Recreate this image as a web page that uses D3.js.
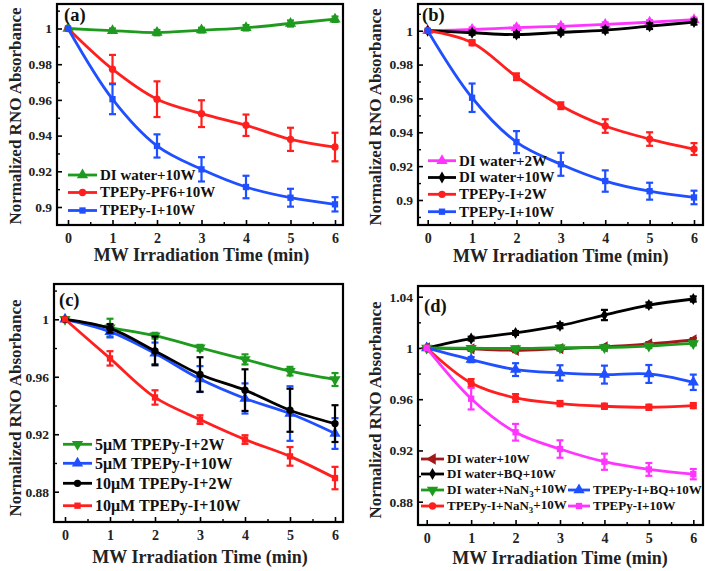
<!DOCTYPE html>
<html><head><meta charset="utf-8">
<script src="https://cdn.jsdelivr.net/npm/d3@7/dist/d3.min.js"></script>
<style>
body{margin:0;background:#fff;}
svg{display:block;font-family:"Liberation Serif","Times New Roman",serif;font-weight:bold;}
</style></head>
<body><svg id="c" width="705" height="571"></svg>
<script>
// ---------- data ----------
const times = [0, 1, 2, 3, 4, 5, 6];
const xTickLabels = ["0", "1", "2", "3", "4", "5", "6"];

// panel (a)
const aDI10W      = [1, 0.9988, 0.9977, 0.9991, 1.0004, 1.0028, 1.0052];
const aDI10WErr   = [0, 0.0012, 0.0015, 0.0013, 0.0015, 0.0017, 0.0015];
const aPF6_10W    = [1, 0.9772, 0.9604, 0.9523, 0.9458, 0.9379, 0.9336];
const aPF6_10WErr = [0, 0.0080, 0.0100, 0.0075, 0.0060, 0.0065, 0.0080];
const aI10W       = [1, 0.9604, 0.9342, 0.9211, 0.9112, 0.9052, 0.9015];
const aI10WErr    = [0, 0.0084, 0.0065, 0.0068, 0.0063, 0.0050, 0.0040];
const abYTicks    = [0.9, 0.92, 0.94, 0.96, 0.98, 1];
const abYLabels   = ["0.9", "0.92", "0.94", "0.96", "0.98", "1"];
const abYMinor    = [0.89, 0.91, 0.93, 0.95, 0.97, 0.99, 1.01];

// panel (b)
const bDI2W       = [1, 1.0007, 1.0018, 1.0026, 1.0037, 1.0050, 1.0065];
const bDI2WErr    = [0, 0.0012, 0.0012, 0.0012, 0.0012, 0.0012, 0.0012];
const bDI10W      = [1, 0.9988, 0.9977, 0.9990, 1.0004, 1.0027, 1.0051];
const bDI10WErr   = [0, 0.0012, 0.0015, 0.0013, 0.0015, 0.0017, 0.0015];
const bI2W        = [1, 0.9929, 0.9728, 0.9557, 0.9437, 0.9360, 0.9301];
const bI2WErr     = [0, 0.0015, 0.0020, 0.0020, 0.0040, 0.0040, 0.0035];
const bI10W       = [1, 0.9604, 0.9342, 0.9211, 0.9112, 0.9052, 0.9015];
const bI10WErr    = [0, 0.0084, 0.0065, 0.0068, 0.0063, 0.0050, 0.0040];

// panel (c)
const c5uM2W      = [1, 0.9942, 0.9886, 0.9802, 0.9721, 0.9639, 0.9581];
const c5uM2WErr   = [0, 0.0062, 0.0020, 0.0020, 0.0035, 0.0030, 0.0045];
const c5uM10W     = [1, 0.9914, 0.9763, 0.9584, 0.9449, 0.9344, 0.9205];
const c5uM10WErr  = [0, 0.0040, 0.0075, 0.0090, 0.0105, 0.0190, 0.0107];
const c10uM2W     = [1, 0.9937, 0.9780, 0.9616, 0.9507, 0.9367, 0.9274];
const c10uM2WErr  = [0, 0.0030, 0.0100, 0.0120, 0.0145, 0.0150, 0.0128];
const c10uM10W    = [1, 0.9728, 0.9456, 0.9302, 0.9163, 0.9046, 0.8895];
const c10uM10WErr = [0, 0.0050, 0.0050, 0.0030, 0.0030, 0.0065, 0.0078];
const cdYTicks    = [0.88, 0.92, 0.96, 1, 1.04];
const cdYLabels   = ["0.88", "0.92", "0.96", "1", "1.04"];
const cdYMinor    = [0.86, 0.90, 0.94, 0.98, 1.02];

// panel (d)
const dDI10W      = [1, 0.9992, 0.9982, 0.9995, 1.0008, 1.0031, 1.0062];
const dDI10WErr   = [0, 0.0015, 0.0015, 0.0015, 0.0015, 0.0015, 0.0015];
const dDIBQ10W    = [1, 1.0073, 1.0117, 1.0174, 1.0257, 1.0335, 1.0382];
const dDIBQ10WErr = [0, 0.0015, 0.0015, 0.0020, 0.0040, 0.0020, 0.0020];
const dDINaN3     = [1, 0.9998, 0.9996, 1.0002, 1.0003, 1.0015, 1.0035];
const dDINaN3Err  = [0, 0.0015, 0.0015, 0.0015, 0.0015, 0.0015, 0.0015];
const dIBQ10W     = [1, 0.9909, 0.9831, 0.9805, 0.9792, 0.9797, 0.9732];
const dIBQ10WErr  = [0, 0.0020, 0.0050, 0.0060, 0.0070, 0.0070, 0.0060];
const dINaN3      = [1, 0.9727, 0.9610, 0.9566, 0.9545, 0.9537, 0.9550];
const dINaN3Err   = [0, 0.0030, 0.0030, 0.0020, 0.0020, 0.0020, 0.0020];
const dI10W       = [1, 0.9604, 0.9342, 0.9211, 0.9112, 0.9052, 0.9015];
const dI10WErr    = [0, 0.0084, 0.0065, 0.0068, 0.0063, 0.0050, 0.0040];

// ---------- styles ----------
const GREEN = "#1e9b1e", RED = "#ff1f1f", BLUE = "#1f4fff", MAG = "#ff35ff", BLACK = "#000000", WINE = "#a3191b";

const svg = d3.select("#c");
const FONT = '"Liberation Serif","Times New Roman",serif';

function sym(type, size) {
  const t = {up: d3.symbolTriangle, down: d3.symbolTriangle, left: d3.symbolTriangle,
             circle: d3.symbolCircle, square: d3.symbolSquare, diamond: d3.symbolDiamond}[type];
  return d3.symbol().type(t).size(size)();
}
function symRot(type) { return type === "down" ? 180 : type === "left" ? -90 : 0; }
function symSize(type) { return {up: 55, down: 55, left: 55, circle: 42, square: 40, diamond: 42}[type]; }

function panel(cfg) {
  const g = svg.append("g");
  const x = d3.scaleLinear().domain([0, 6]).range(cfg.xr);
  const y = d3.scaleLinear().domain(cfg.yd).range(cfg.yr);
  const F = cfg.frame; // [left, top, right, bottom]
  const inside = v => y(v) > F[1] + 2 && y(v) < F[3] - 2;

  // axes
  const idx = cfg.yTicks.map((v, i) => i).filter(i => inside(cfg.yTicks[i]));
  const yAx = d3.axisLeft(y).tickValues(idx.map(i => cfg.yTicks[i]))
      .tickFormat((d, k) => cfg.yLabels[idx[k]]).tickSizeInner(-5).tickSizeOuter(0).tickPadding(5);
  const ga = g.append("g").attr("transform", `translate(${F[0]},0)`).call(yAx);
  ga.select(".domain").remove();
  ga.selectAll("line").attr("stroke", "#000").attr("stroke-width", 1.6);
  ga.selectAll("text").attr("font-size", 13.5).attr("font-family", FONT).attr("font-weight", "bold").attr("fill", "#222");
  const ym = d3.axisLeft(y).tickValues(cfg.yMinor.filter(inside))
      .tickFormat("").tickSizeInner(-3).tickSizeOuter(0);
  const gm = g.append("g").attr("transform", `translate(${F[0]},0)`).call(ym);
  gm.select(".domain").remove();
  gm.selectAll("line").attr("stroke", "#000").attr("stroke-width", 1.4);

  const xAx = d3.axisBottom(x).tickValues(times).tickFormat((d, i) => xTickLabels[i])
      .tickSizeInner(-5).tickSizeOuter(0).tickPadding(8);
  const gx = g.append("g").attr("transform", `translate(0,${F[3]})`).call(xAx);
  gx.select(".domain").remove();
  gx.selectAll("line").attr("stroke", "#000").attr("stroke-width", 1.6);
  gx.selectAll("text").attr("font-size", 14).attr("font-family", FONT).attr("font-weight", "bold").attr("fill", "#222");
  const xm = d3.axisBottom(x).tickValues([0.5, 1.5, 2.5, 3.5, 4.5, 5.5]).tickFormat("").tickSizeInner(-3).tickSizeOuter(0);
  const gxm = g.append("g").attr("transform", `translate(0,${F[3]})`).call(xm);
  gxm.select(".domain").remove();
  gxm.selectAll("line").attr("stroke", "#000").attr("stroke-width", 1.4);

  // series
  const line = d3.line().x((d, i) => x(times[i])).y(d => y(d)).curve(d3.curveCatmullRom.alpha(0.5));
  cfg.series.forEach(s => {
    const sg = g.append("g");
    sg.append("path").attr("d", line(s.v)).attr("fill", "none").attr("stroke", s.c).attr("stroke-width", 2.8);
    s.v.forEach((v, i) => {
      const e = s.e[i];
      if (e > 0) {
        const xi = x(times[i]);
        sg.append("line").attr("x1", xi).attr("x2", xi).attr("y1", y(v - e)).attr("y2", y(v + e))
          .attr("stroke", s.c).attr("stroke-width", 2.2);
        [v - e, v + e].forEach(w => sg.append("line").attr("x1", xi - 3.5).attr("x2", xi + 3.5)
          .attr("y1", y(w)).attr("y2", y(w)).attr("stroke", s.c).attr("stroke-width", 2.2));
      }
    });
    s.v.forEach((v, i) => {
      sg.append("path").attr("d", sym(s.m, symSize(s.m)))
        .attr("transform", `translate(${x(times[i])},${y(v)}) rotate(${symRot(s.m)})`).attr("fill", s.c);
    });
  });

  // frame
  g.append("rect").attr("x", F[0]).attr("y", F[1]).attr("width", F[2] - F[0]).attr("height", F[3] - F[1])
    .attr("fill", "none").attr("stroke", "#000").attr("stroke-width", 2.2);

  // panel label
  g.append("text").attr("x", cfg.tag[0]).attr("y", cfg.tag[1]).attr("font-size", 18.5).attr("fill", "#111").text(cfg.tag[2]);

  // axis titles
  g.append("text").attr("x", (cfg.xr[0] + cfg.xr[1]) / 2).attr("y", cfg.xt).attr("text-anchor", "middle")
    .attr("font-size", 18).attr("fill", "#222").text("MW Irradiation Time (min)");
  g.append("text").attr("transform", `translate(${cfg.yt[0]},${cfg.yt[1]}) rotate(-90)`).attr("text-anchor", "middle")
    .attr("font-size", 17).attr("fill", "#222").text("Normalized RNO Absorbance");

  // legend
  cfg.legend.forEach(L => {
    const s = cfg.series[L.i];
    g.append("line").attr("x1", L.x).attr("x2", L.x + L.w).attr("y1", L.y).attr("y2", L.y)
      .attr("stroke", s.c).attr("stroke-width", 2.8);
    g.append("path").attr("d", sym(s.m, symSize(s.m)))
      .attr("transform", `translate(${L.x + L.w / 2},${L.y}) rotate(${symRot(s.m)})`).attr("fill", s.c);
    const t = g.append("text").attr("x", L.x + L.w + 3).attr("y", L.y).attr("dy", "0.33em")
      .attr("font-size", cfg.lfs).attr("fill", "#111");
    if (s.sub) {
      t.append("tspan").text(s.sub[0]);
      t.append("tspan").attr("font-size", cfg.lfs * 0.68).attr("dy", "0.3em").text(s.sub[1]);
      t.append("tspan").attr("dy", "-0.3em").text(s.sub[2]);
    } else t.text(s.n);
  });
}

// (a)
panel({
  frame: [57, 4, 343, 225], xr: [68, 335], yd: [0.9, 1], yr: [207, 28.5],
  yTicks: abYTicks, yLabels: abYLabels, yMinor: abYMinor,
  tag: [64, 21, "(a)"], xt: 261, yt: [21, 116], lfs: 15,
  series: [
    {n: "DI water+10W", v: aDI10W, e: aDI10WErr, c: GREEN, m: "up"},
    {n: "TPEPy-PF6+10W", v: aPF6_10W, e: aPF6_10WErr, c: RED, m: "circle"},
    {n: "TPEPy-I+10W", v: aI10W, e: aI10WErr, c: BLUE, m: "square"}
  ],
  legend: [{i: 0, x: 68, y: 175, w: 29}, {i: 1, x: 68, y: 192.5, w: 29}, {i: 2, x: 68, y: 210.5, w: 29}]
});
// (b)
panel({
  frame: [418, 4, 703, 225], xr: [427.7, 694], yd: [0.9, 1], yr: [200, 30.7],
  yTicks: abYTicks, yLabels: abYLabels, yMinor: abYMinor,
  tag: [422, 21, "(b)"], xt: 262, yt: [381, 117], lfs: 15,
  series: [
    {n: "DI water+2W", v: bDI2W, e: bDI2WErr, c: MAG, m: "up"},
    {n: "DI water+10W", v: bDI10W, e: bDI10WErr, c: BLACK, m: "diamond"},
    {n: "TPEPy-I+2W", v: bI2W, e: bI2WErr, c: RED, m: "circle"},
    {n: "TPEPy-I+10W", v: bI10W, e: bI10WErr, c: BLUE, m: "square"}
  ],
  legend: [{i: 0, x: 428, y: 160.7, w: 28}, {i: 1, x: 428, y: 177.5, w: 28}, {i: 2, x: 428, y: 194.3, w: 28}, {i: 3, x: 428, y: 211.7, w: 28}]
});
// (c)
panel({
  frame: [54, 284, 343, 522], xr: [65, 335], yd: [0.88, 1], yr: [491.7, 319.3],
  yTicks: cdYTicks, yLabels: cdYLabels, yMinor: cdYMinor,
  tag: [59, 306, "(c)"], xt: 563, yt: [21, 408], lfs: 16,
  series: [
    {n: "5μM TPEPy-I+2W", v: c5uM2W, e: c5uM2WErr, c: GREEN, m: "down"},
    {n: "5μM TPEPy-I+10W", v: c5uM10W, e: c5uM10WErr, c: BLUE, m: "up"},
    {n: "10μM TPEPy-I+2W", v: c10uM2W, e: c10uM2WErr, c: BLACK, m: "circle"},
    {n: "10μM TPEPy-I+10W", v: c10uM10W, e: c10uM10WErr, c: RED, m: "square"}
  ],
  legend: [{i: 0, x: 63, y: 444.3, w: 29}, {i: 1, x: 63, y: 463.3, w: 29}, {i: 2, x: 63, y: 483.3, w: 29}, {i: 3, x: 63, y: 505.7, w: 29}]
});
// (d)
panel({
  frame: [418, 286, 703, 525], xr: [426.7, 693.3], yd: [0.88, 1.04], yr: [501.7, 296.7],
  yTicks: cdYTicks, yLabels: cdYLabels, yMinor: cdYMinor,
  tag: [424, 312, "(d)"], xt: 564, yt: [381, 410], lfs: 13,
  series: [
    {n: "DI water+10W", v: dDI10W, e: dDI10WErr, c: WINE, m: "left"},
    {n: "DI water+BQ+10W", v: dDIBQ10W, e: dDIBQ10WErr, c: BLACK, m: "diamond"},
    {n: "DI water+NaN3+10W", sub: ["DI water+NaN", "3", "+10W"], v: dDINaN3, e: dDINaN3Err, c: GREEN, m: "down"},
    {n: "TPEPy-I+BQ+10W", v: dIBQ10W, e: dIBQ10WErr, c: BLUE, m: "up"},
    {n: "TPEPy-I+NaN3+10W", sub: ["TPEPy-I+NaN", "3", "+10W"], v: dINaN3, e: dINaN3Err, c: RED, m: "circle"},
    {n: "TPEPy-I+10W", v: dI10W, e: dI10WErr, c: MAG, m: "square"}
  ],
  legend: [{i: 0, x: 421, y: 459, w: 23}, {i: 1, x: 421, y: 474, w: 23}, {i: 2, x: 421, y: 490, w: 23},
           {i: 4, x: 421, y: 506, w: 23}, {i: 3, x: 568, y: 490, w: 22}, {i: 5, x: 568, y: 506, w: 22}]
});
</script></body></html>
